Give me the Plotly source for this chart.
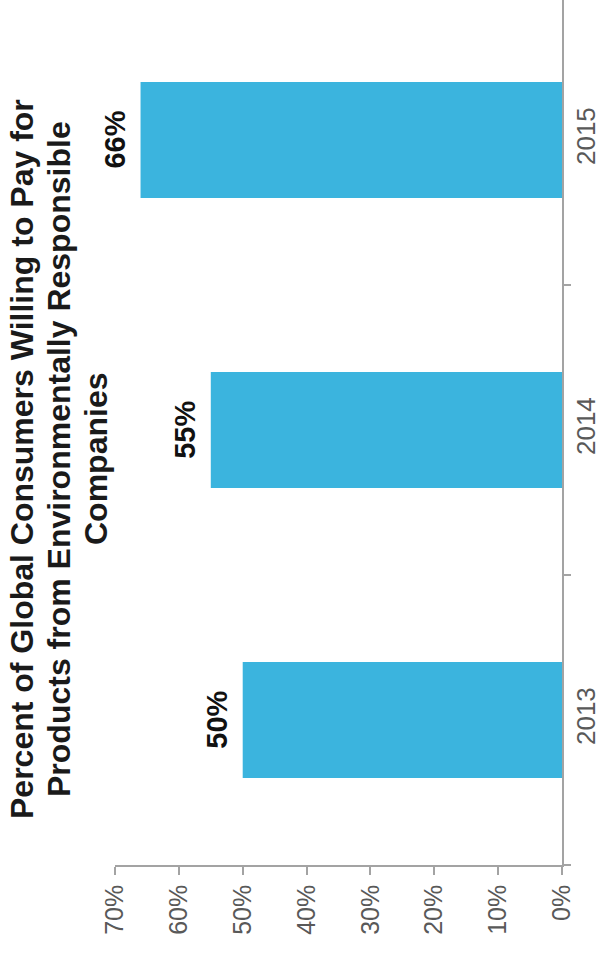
import plotly.graph_objects as go

years = ["2013", "2014", "2015"]
values = [50, 55, 66]
value_labels = ["50%", "55%", "66%"]
tick_vals = [0, 10, 20, 30, 40, 50, 60, 70]
tick_text = ["0%", "10%", "20%", "30%", "40%", "50%", "60%", "70%"]
title_lines = [
    "Percent of Global Consumers Willing to Pay for",
    "Products from Environmentally Responsible",
    "Companies",
]

bar_color = "#3BB4DE"
axis_color = "#A3A3A3"
label_color = "#595959"
font_family = "Liberation Sans, Arial, sans-serif"

# layout geometry (pixels)
W, H = 603, 958
ML, MR, MT, MB = 115, 41, 0, 93
plot_w = W - ML - MR
plot_h = H - MT - MB

fig = go.Figure()
fig.add_trace(go.Bar(
    x=values,
    y=years,
    orientation="h",
    width=0.4,
    marker=dict(color=bar_color, line=dict(width=0)),
    hoverinfo="skip",
))

annotations = []
# value labels, placed at each bar's end through the data axes
for i, (v, lab) in enumerate(zip(values, value_labels)):
    annotations.append(dict(
        text=lab,
        xref="x", yref="y",
        x=v, y=i,
        xanchor="right", yanchor="middle",
        xshift=-8,
        textangle=-90,
        showarrow=False,
        font=dict(family=font_family, size=29, color="#111111", weight="bold"),
    ))

title_x_px = [22, 59, 96]
for line, xp in zip(title_lines, title_x_px):
    annotations.append(dict(
        text=line,
        xref="paper", yref="paper",
        x=(xp - ML) / plot_w, y=(plot_h - 459) / plot_h,
        xanchor="center", yanchor="middle",
        textangle=-90,
        showarrow=False,
        font=dict(family=font_family, size=32, color="#1a1a1a", weight="bold"),
    ))

fig.update_layout(
    width=W,
    height=H,
    margin=dict(l=ML, r=MR, t=MT, b=MB, pad=0),
    paper_bgcolor="white",
    plot_bgcolor="white",
    showlegend=False,
    font=dict(family=font_family),
    xaxis=dict(
        range=[70, 0],
        tickvals=tick_vals,
        ticktext=tick_text,
        tickangle=-90,
        tickfont=dict(family=font_family, size=25, color=label_color),
        showgrid=False,
        zeroline=False,
        showline=True,
        linecolor=axis_color,
        linewidth=1.5,
        ticks="outside",
        ticklen=8,
        tickcolor=axis_color,
        tickwidth=1.5,
        fixedrange=True,
    ),
    yaxis=dict(
        type="category",
        categoryorder="array",
        categoryarray=years,
        range=[-0.5, -0.5 + plot_h / 290.0],
        side="right",
        tickangle=-90,
        tickfont=dict(family=font_family, size=26, color=label_color),
        showgrid=False,
        zeroline=False,
        showline=True,
        linecolor=axis_color,
        linewidth=1.5,
        ticks="outside",
        tickson="boundaries",
        ticklen=7,
        tickcolor=axis_color,
        tickwidth=1.5,
        fixedrange=True,
    ),
    annotations=annotations,
)

fig.write_html(
    "out.html",
    config={"displayModeBar": False},
    post_script="document.body.style.margin='0';document.body.style.overflow='hidden';",
)
